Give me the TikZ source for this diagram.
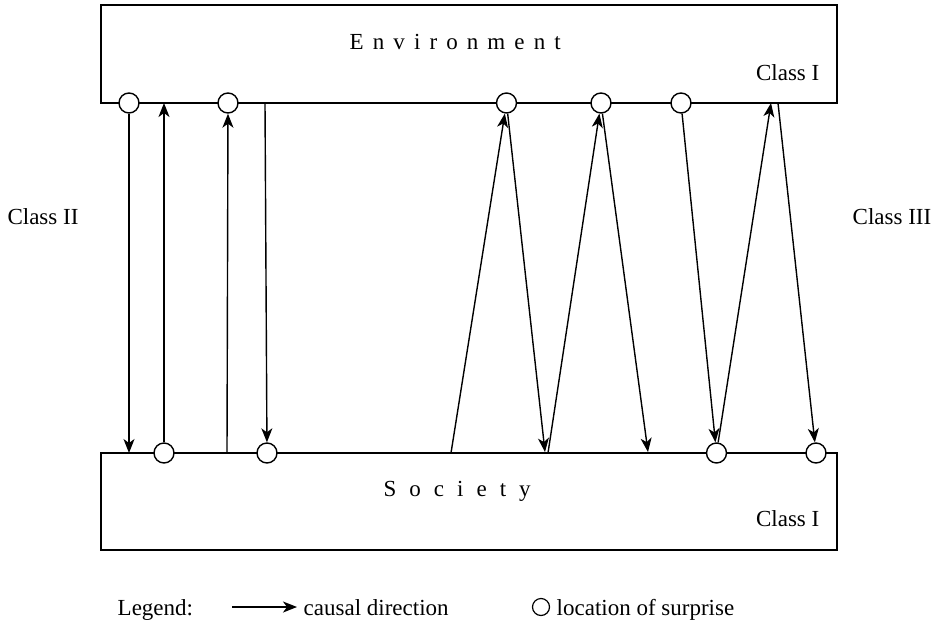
\documentclass[tikz,border=0pt]{standalone}
\usepackage{fontspec}
\setmainfont{Liberation Serif}
\usetikzlibrary{arrows.meta}
\newcommand{\gp}{\hspace{9.1pt}}
\newcommand{\gq}{\hspace{13pt}}
\begin{document}
\begin{tikzpicture}[x=1pt,y=-1pt,
  line width=1.4pt,
  txt/.style={inner sep=0pt,font=\fontsize{23}{27}\selectfont},
  surprise/.style={circle,draw,fill=white,minimum size=20pt,inner sep=0pt,line width=1.4pt},
  box/.style={draw,line width=1.4pt},
  cause/.style={-{Stealth[length=14pt,width=11pt,inset=4pt]}}]
\useasboundingbox (0,0) rectangle (937,627);
% boxes
\draw[box] (101,5) rectangle (837,103);
\draw[box] (101,453) rectangle (837,550);
% texts
\node[txt,anchor=base west] (env) at (349,49) {E\gp n\gp v\gp i\gp r\gp o\gp n\gp m\gp e\gp n\gp t};
\node[txt,anchor=base west] (soc) at (383,496) {S\gq o\gq c\gq i\gq e\gq t\gq y};
\node[txt,anchor=base east] (c1a) at (820,80) {Class I};
\node[txt,anchor=base east] (c1b) at (820,526) {Class I};
\node[txt,anchor=base] (c2) at (43,224) {Class II};
\node[txt,anchor=base] (c3) at (892,224) {Class III};
% top free ends
\coordinate (tA) at (164,103);
\coordinate (tB) at (265,103);
\coordinate (tC) at (771,103);
\coordinate (tD) at (778,103);
% bottom free ends
\coordinate (bA) at (129,453);
\coordinate (bB) at (227,453);
\coordinate (bC) at (451,453);
\coordinate (bD) at (545,452);
\coordinate (bE) at (548,453);
\coordinate (bF) at (648,452);
% circles
\node[surprise] (t1) at (129,103) {};
\node[surprise] (t2) at (228,103) {};
\node[surprise] (t3) at (506.5,103) {};
\node[surprise] (t4) at (601,103) {};
\node[surprise] (t5) at (681,103) {};
\node[surprise] (s1) at (164,453) {};
\node[surprise] (s2) at (267,453) {};
\node[surprise] (s3) at (716.5,453) {};
\node[surprise] (s4) at (816,453) {};
% arrows
\draw[cause] (t1) -- (bA);
\draw[cause] (s1) -- (tA);
\draw[cause] (bB) -- (t2);
\draw[cause] (tB) -- (s2);
\draw[cause] (bC) -- (t3);
\draw[cause] (t3) -- (bD);
\draw[cause] (bE) -- (t4);
\draw[cause] (t4) -- (bF);
\draw[cause] (t5) -- (s3);
\draw[cause] (s3) -- (tC);
\draw[cause] (tD) -- (s4);
% legend
\node[txt,anchor=base west] (leg) at (117,615) {Legend:};
\coordinate (la) at (232,607);
\coordinate (lb) at (297,607);
\draw[cause] (la) -- (lb);
\node[txt,anchor=base west] (cd) at (303,615) {causal direction};
\node[surprise,minimum size=17pt,line width=1.2pt] (lc) at (541,607) {};
\node[txt,anchor=base west] (ls) at (556,615) {location of surprise};
\end{tikzpicture}
\end{document}
